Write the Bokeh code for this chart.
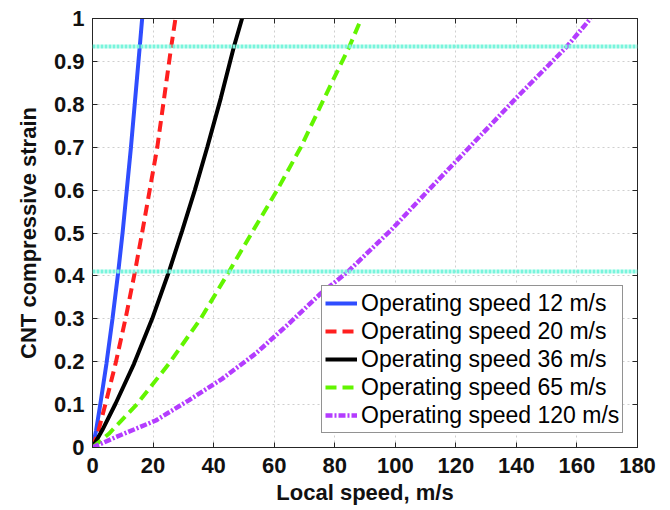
from bokeh.plotting import figure
from bokeh.models import Span, Legend, LegendItem, LinearAxis, FixedTicker, Range1d
from bokeh.embed import file_html
from bokeh.resources import INLINE

# ---- data ----
x_ticks = [0, 20, 40, 60, 80, 100, 120, 140, 160, 180]
x_tick_labels = ["0", "20", "40", "60", "80", "100", "120", "140", "160", "180"]
y_ticks = [0, 0.1, 0.2, 0.3, 0.4, 0.5, 0.6, 0.7, 0.8, 0.9, 1.0]
y_tick_labels = ["0", "0.1", "0.2", "0.3", "0.4", "0.5", "0.6", "0.7", "0.8", "0.9", "1"]

labels = ["Operating speed 12 m/s", "Operating speed 20 m/s", "Operating speed 36 m/s",
          "Operating speed 65 m/s", "Operating speed 120 m/s"]

v12 = [0, 1.2, 2.6, 4.6, 6.6, 8.5, 10.0, 12.7, 15.6, 16.4]
s12 = [0, 0.04, 0.102, 0.195, 0.30, 0.409, 0.505, 0.70, 0.934, 1.0]

v20 = [0, 2.0, 4.3, 7.6, 10.9, 14.0, 16.5, 21.4, 26.0, 27.4]
s20 = [0, 0.04, 0.102, 0.195, 0.30, 0.409, 0.505, 0.70, 0.934, 1.0]

v36 = [0, 3.2, 7.6, 13.7, 19.7, 25.2, 29.6, 33.8, 37.9, 42.4, 46.7, 49.4]
s36 = [0, 0.04, 0.102, 0.195, 0.30, 0.409, 0.505, 0.60, 0.70, 0.815, 0.934, 1.0]

v65 = [0, 5.4, 14.8, 25.2, 35.7, 45.0, 53.0, 61.0, 68.8, 76.6, 84.8, 88.8]
s65 = [0, 0.032, 0.102, 0.195, 0.30, 0.409, 0.505, 0.60, 0.70, 0.815, 0.934, 1.0]

v120 = [0, 7.6, 20.9, 31.8, 42.8, 53.9, 64.9, 75.4, 84.2, 98.5, 111.0, 124.5, 140.0, 156.6, 164.5]
s120 = [0, 0.024, 0.063, 0.11, 0.16, 0.219, 0.289, 0.359, 0.409, 0.506, 0.60, 0.70, 0.815, 0.934, 1.0]

strain_levels = [0.41, 0.935]

# ---- styles ----
colors = ["#2f4dff", "#ff1f1f", "#000000", "#62f500", "#b43cff"]
dashes = ["solid", "11 6", "solid", "11 6", "7 2 2 2"]
widths = [4, 4, 4, 4, 4.5]
FONT = "Liberation Sans"
AX = "#262626"

p = figure(width=670, height=510, x_range=Range1d(0, 180), y_range=Range1d(0, 1),
           output_backend="svg", toolbar_location=None,
           min_border_left=92, min_border_right=33, min_border_top=18, min_border_bottom=63,
           x_axis_label="Local speed, m/s", y_axis_label="CNT compressive strain")
p.outline_line_color = AX
p.outline_line_width = 1
p.background_fill_color = "white"
p.border_fill_color = "white"

for g in (p.xgrid[0], p.ygrid[0]):
    g.grid_line_color = "#cfcfcf"
    g.grid_line_dash = "2 3"
    g.grid_line_width = 1
p.xgrid[0].ticker = FixedTicker(ticks=x_ticks)
p.ygrid[0].ticker = FixedTicker(ticks=y_ticks)

def style_axis(ax, ticks, tick_labels, show_labels=True):
    ax.ticker = FixedTicker(ticks=ticks)
    ax.major_label_overrides = {t: l for t, l in zip(ticks, tick_labels)}
    ax.axis_line_color = AX
    ax.major_tick_line_color = AX
    ax.major_tick_in = 5
    ax.major_tick_out = 0
    ax.minor_tick_line_color = None
    ax.major_label_text_font = FONT
    ax.major_label_text_font_style = "bold"
    ax.major_label_text_font_size = "22px" if show_labels else "0px"
    ax.major_label_text_color = "#111111"
    ax.axis_label_text_font = FONT
    ax.axis_label_text_font_style = "bold"
    ax.axis_label_text_font_size = "22px"
    ax.axis_label_text_color = "#111111"

style_axis(p.xaxis[0], x_ticks, x_tick_labels)
style_axis(p.yaxis[0], y_ticks, y_tick_labels)
p.xaxis[0].major_label_standoff = 10
p.xaxis[0].axis_label_standoff = 4
p.yaxis[0].major_label_standoff = 8
p.yaxis[0].axis_label_standoff = 10

top = LinearAxis()
right = LinearAxis()
style_axis(top, x_ticks, [""] * len(x_ticks), show_labels=False)
style_axis(right, y_ticks, [""] * len(y_ticks), show_labels=False)
top.major_label_standoff = 0
right.major_label_standoff = 0
p.add_layout(top, "above")
p.add_layout(right, "right")

for lvl in strain_levels:
    p.add_layout(Span(location=lvl, dimension="width", line_color="#78f5dc",
                      line_width=4, line_dash="3 1"))

series = [(v12, s12), (v20, s20), (v36, s36), (v65, s65), (v120, s120)]
items = []
for (xs, ys), c, d, w, lab in zip(series, colors, dashes, widths, labels):
    r = p.line(xs, ys, line_color=c, line_dash=d, line_width=w)
    items.append(LegendItem(label=lab, renderers=[r]))

legend = Legend(items=items, location=(229, 14))
legend.border_line_color = AX
legend.border_line_width = 1
legend.background_fill_color = "white"
legend.background_fill_alpha = 1
legend.label_text_font = FONT
legend.label_text_font_size = "23px"
legend.label_text_color = "black"
legend.glyph_width = 32
legend.glyph_height = 28
legend.label_height = 28
legend.spacing = 0
legend.padding = 3
legend.margin = 0
legend.label_standoff = 4
p.add_layout(legend, "center")

open("out.html", "w").write(file_html(p, INLINE))
